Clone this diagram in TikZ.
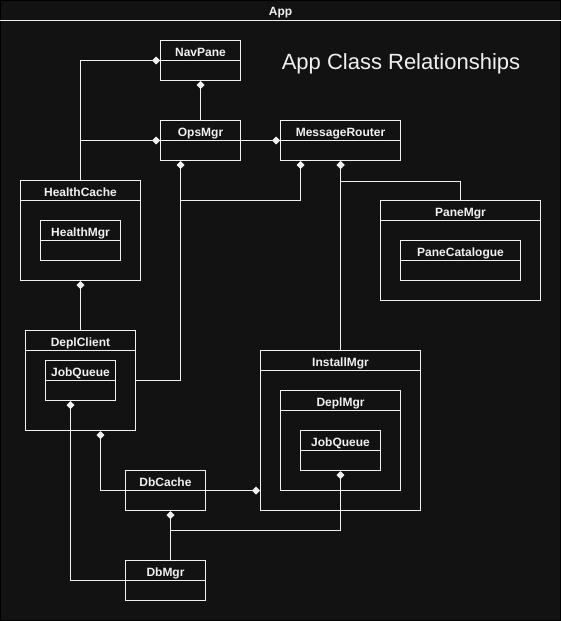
\documentclass[tikz,border=0pt]{standalone}
\usepackage{fontspec}
\setmainfont{Liberation Sans}
\usetikzlibrary{arrows.meta}
\definecolor{bg}{HTML}{121212}
\definecolor{fg}{HTML}{F0F0F0}
\tikzset{
  wire/.style={draw=fg, line width=1pt},
  clsbox/.style={draw=fg, fill=bg, line width=1pt, inner sep=0pt, rectangle},
  clslabel/.style={text=fg, font=\bfseries\fontsize{12}{14}\selectfont, inner sep=0pt, anchor=base},
  comp/.style={wire, {Diamond[length=8pt,width=8pt,fill=fg]}-},
}
\newcommand\umlbox[6]{%
  \node[clsbox, minimum width=#4pt, minimum height=#5pt] (#1) at (#2,#3) {};
  \draw[wire] ([yshift=-20pt]#1.north west) -- ([yshift=-20pt]#1.north east);
  \node[clslabel] (#1-t) at ([yshift=-16.5pt]#1.north) {#6};
}
\begin{document}
\begin{tikzpicture}[x=1pt, y=-1pt]
\useasboundingbox (-0.5,-0.5) rectangle (560.5,620.5);
% frame
\node[draw=black, fill=bg, line width=1pt, inner sep=0pt, minimum width=560pt, minimum height=620pt] (app) at (280,310) {};
\draw[wire] ([yshift=-20pt]app.north west) -- ([yshift=-20pt]app.north east);
\node[clslabel] (app-t) at ([yshift=-16pt]app.north) {App};
% diagram title
\node[text=fg, font=\fontsize{22}{26}\selectfont, inner sep=0pt, anchor=base] (title) at (400.5,68.5) {App Class Relationships};
% classes
\umlbox{nav}{200}{60}{80}{40}{NavPane}
\umlbox{ops}{200}{140}{80}{40}{OpsMgr}
\umlbox{mr}{340}{140}{120}{40}{MessageRouter}
\umlbox{hc}{80}{230}{120}{100}{HealthCache}
\umlbox{hm}{80}{240}{80}{40}{HealthMgr}
\umlbox{pm}{460}{250}{160}{100}{PaneMgr}
\umlbox{pc}{460}{260}{120}{40}{PaneCatalogue}
\umlbox{dc}{80}{380}{110}{100}{DeplClient}
\umlbox{jq1}{80}{380}{70}{40}{JobQueue}
\umlbox{im}{340}{430}{160}{160}{InstallMgr}
\umlbox{dm}{340}{440}{120}{100}{DeplMgr}
\umlbox{jq2}{340}{450}{80}{40}{JobQueue}
\umlbox{dbc}{165}{490}{80}{40}{DbCache}
\umlbox{dbm}{165}{580}{80}{40}{DbMgr}
% junction points
\coordinate (j1) at (180,200);
\coordinate (j3) at (170,530);
% connectors
\draw[comp] (nav.west) -| (hc.north);
\draw[comp] (ops.west) -| (hc.north);
\draw[comp] (nav.south) -- (ops.north);
\draw[comp] (mr.west) -- (ops.east);
\draw[comp] ([xshift=-20pt]ops.south) |- (dc.east);
\draw[comp] ([xshift=-40pt]mr.south) |- (j1);
\draw[comp] (mr.south) -- ++(0,20) -| (pm.north);
\draw[comp] (mr.south) -- (im.north);
\draw[comp] (hc.south) -- (dc.north);
\draw[comp] ([xshift=20pt]dc.south) |- (dbc.west);
\draw[comp] (im.west |- dbc.east) -- (dbc.east);
\draw[comp] ([xshift=-10pt]jq1.south) |- (dbm.west);
\draw[comp] ([xshift=5pt]dbc.south) -- ([xshift=5pt]dbm.north);
\draw[comp] (jq2.south) |- (j3);
\end{tikzpicture}
\end{document}
